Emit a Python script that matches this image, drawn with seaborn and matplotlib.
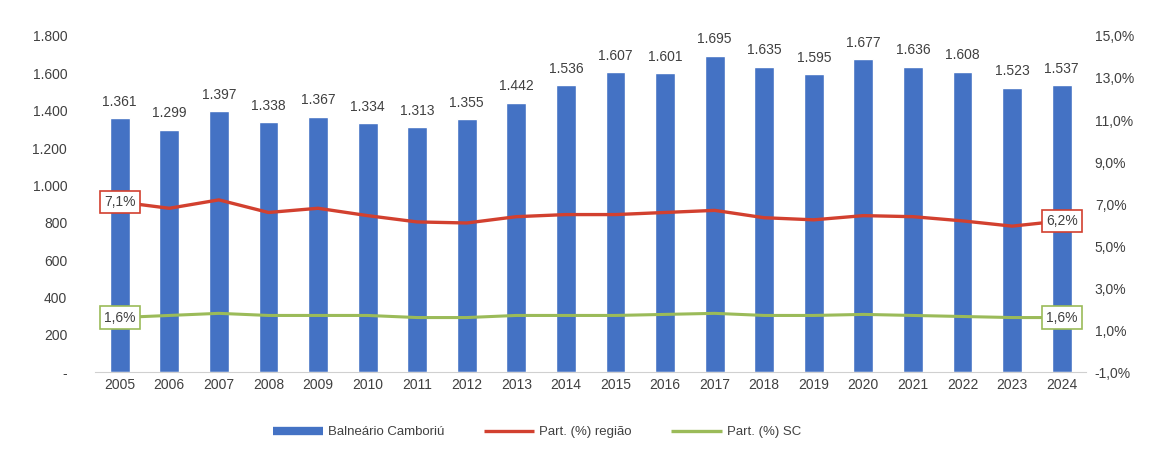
import matplotlib
matplotlib.use("Agg")
import matplotlib.pyplot as plt
from matplotlib.lines import Line2D
from matplotlib.ticker import FuncFormatter
import numpy as np
import pandas as pd
import seaborn as sns

years = [str(y) for y in range(2005, 2025)]
balneario = [1361, 1299, 1397, 1338, 1367, 1334, 1313, 1355, 1442, 1536,
             1607, 1601, 1695, 1635, 1595, 1677, 1636, 1608, 1523, 1537]
partRegiao = [7.1, 6.8, 7.2, 6.6, 6.8, 6.45, 6.15, 6.1, 6.4, 6.5,
              6.5, 6.6, 6.7, 6.35, 6.25, 6.45, 6.4, 6.2, 5.95, 6.2]
partSC = [1.6, 1.7, 1.8, 1.7, 1.7, 1.7, 1.6, 1.6, 1.7, 1.7,
          1.7, 1.75, 1.8, 1.7, 1.7, 1.75, 1.7, 1.65, 1.6, 1.6]

leftTicks = list(range(0, 1801, 200))
rightTicks = list(range(-1, 16, 2))

blue = "#4472C4"
red = "#D2402F"
green = "#9BBB59"
textColor = "#404040"

sns.set_style("white")
plt.rcParams["font.family"] = ["Liberation Sans", "DejaVu Sans"]

df = pd.DataFrame({"Ano": years, "Balneário Camboriú": balneario,
                   "regiao": partRegiao, "sc": partSC})

fig = plt.figure(figsize=(11.72, 4.55), dpi=100)
ax = fig.add_axes([0.081, 0.182, 0.846, 0.739])

sns.barplot(data=df, x="Ano", y="Balneário Camboriú", order=years,
            color=blue, saturation=1, width=0.4, ax=ax)

for i, v in enumerate(balneario):
    ax.text(i, v + 50, f"{v:,}".replace(",", "."), ha="center", va="bottom",
            fontsize=10, color=textColor)

ax.set_ylim(0, 1800)
ax.set_yticks(leftTicks)
ax.yaxis.set_major_formatter(FuncFormatter(
    lambda v, p: "-" if v == 0 else f"{int(v):,}".replace(",", ".")))
ax.set_xlim(-0.5, len(years) - 0.5)
ax.set_xlabel("")
ax.set_ylabel("")
ax.tick_params(axis="both", length=0, labelsize=10, labelcolor=textColor)
ax.tick_params(axis="x", pad=4)
ax.tick_params(axis="y", pad=20)
for s in ["top", "right", "left"]:
    ax.spines[s].set_visible(False)
ax.spines["bottom"].set_color("#D0D0D0")

ax2 = ax.twinx()
pos = np.arange(len(years))
sns.lineplot(x=pos, y=partRegiao, color=red, linewidth=2.4, ax=ax2)
sns.lineplot(x=pos, y=partSC, color=green, linewidth=2.2, ax=ax2)
ax2.set_ylim(-1, 15)
ax2.set_yticks(rightTicks)
ax2.yaxis.set_major_formatter(FuncFormatter(lambda v, p: f"{v:.1f}%".replace(".", ",")))
ax2.tick_params(axis="y", length=0, labelsize=10, labelcolor=textColor, pad=6)
for s in ["top", "right", "left", "bottom"]:
    ax2.spines[s].set_visible(False)
ax2.set_xlim(-0.5, len(years) - 0.5)

for series, col in [(partRegiao, red), (partSC, green)]:
    for idx in [0, len(years) - 1]:
        ax2.text(pos[idx], series[idx], f"{series[idx]:.1f}%".replace(".", ","),
                 ha="center", va="center", fontsize=10, color=textColor,
                 bbox=dict(boxstyle="square,pad=0.3", fc="white", ec=col, lw=1.2))

handles = [Line2D([0], [0], color=blue, lw=6, solid_capstyle="butt"),
           Line2D([0], [0], color=red, lw=2.4, solid_capstyle="butt"),
           Line2D([0], [0], color=green, lw=2.4, solid_capstyle="butt")]
labels = ["Balneário Camboriú", "Part. (%) região", "Part. (%) SC"]
leg = fig.legend(handles, labels, loc="center", bbox_to_anchor=(0.458, 0.05),
                 ncol=3, frameon=False, fontsize=9.5, handlelength=3.8,
                 columnspacing=3.0, handletextpad=0.4)
for t in leg.get_texts():
    t.set_color(textColor)

fig.savefig("out.png", dpi=100, facecolor="white")
